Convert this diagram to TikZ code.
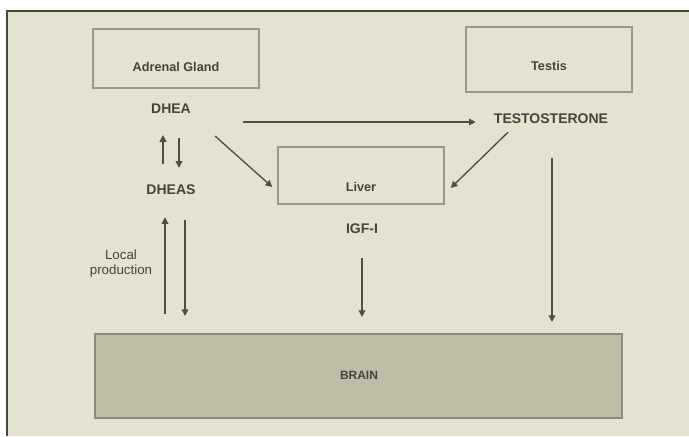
\documentclass[tikz,border=0pt]{standalone}
\usepackage{fontspec}
\setmainfont{Liberation Sans}
\usetikzlibrary{arrows.meta,positioning,calc}
\definecolor{paper}{HTML}{E5E3D0}
\definecolor{frame}{HTML}{4B473D}
\definecolor{boxline}{HTML}{9C9884}
\definecolor{brainfill}{HTML}{BEBBA6}
\definecolor{brainline}{HTML}{8F8B79}
\definecolor{ink}{HTML}{45433B}
\definecolor{arrowc}{HTML}{4F4D44}

\begin{document}
\begin{tikzpicture}[x=0.75pt,y=-0.75pt,
  box/.style={draw=boxline,line width=1.1pt,inner sep=0pt},
  organ/.style={font=\bfseries\fontsize{9.5}{11}\selectfont,text=ink,inner sep=0pt},
  hormone/.style={font=\bfseries\fontsize{10.5}{12}\selectfont,text=ink,inner sep=0pt},
  arr/.style={-{Triangle[length=5pt,width=5pt]},draw=arrowc,line width=1pt}]
  \useasboundingbox (0,0) rectangle (689,436);
  \fill[white] (0,0) rectangle (689,436);
  \fill[paper] (7,11) rectangle (689,436);
  \draw[frame,line width=0.9pt] (7,436) -- (7,11) -- (689,11);
  % organs
  \node[box,minimum width=124.5pt,minimum height=44.25pt] (adrenal) at (176,58.5) {};
  \node[organ] (adrenaltext) at ($(adrenal)+(0,8.5)$) {Adrenal Gland};
  \node[box,minimum width=124.5pt,minimum height=48.75pt] (testis) at (549,59.5) {};
  \node[organ] (testistext) at ($(testis)+(0,6.5)$) {Testis};
  \node[box,minimum width=124.5pt,minimum height=42.75pt] (liver) at (361,175.5) {};
  \node[organ] (livertext) at ($(liver)+(0,11.5)$) {Liver};
  \node[box,draw=brainline,fill=brainfill,line width=1.5pt,minimum width=395.25pt,minimum height=63pt] (brain) at (358.5,376) {};
  \node[organ,font=\bfseries\fontsize{9}{11}\selectfont] (braintext) at (359,375) {BRAIN};
  % hormones
  \node[hormone] (dhea) at (171,109) {DHEA};
  \node[hormone] (dheas) at (171,190) {DHEAS};
  \node[hormone] (testo) at (551,119) {TESTOSTERONE};
  \node[hormone] (igf) at (362,229) {IGF-I};
  \node[font=\fontsize{10}{11.25}\selectfont,text=ink,align=center,inner sep=0pt] (local) at (121,264) {Local\\production};
  % arrows
  \draw[arr] ($(dhea.east)+(52,13)$) -- ($(testo.west)+(-18,3)$);
  \draw[arr] ($(dheas.north)+(-8,-21)$) -- ($(dhea.south)+(-8,21)$);
  \draw[arr] ($(dhea.south)+(8,24)$) -- ($(dheas.north)+(8,-17)$);
  \draw[arr] ($(dhea.south east)+(24,22)$) -- ($(liver.west)+(-5,11.5)$);
  \draw[arr] ($(testo.south)+(-43,8)$) -- ($(liver.east)+(6,12.5)$);
  \draw[arr] ($(dheas.south |- brain.north)+(-6,-19)$) -- ($(dheas.south)+(-6,22)$);
  \draw[arr] ($(dheas.south)+(14,25)$) -- ($(dheas.south |- brain.north)+(14,-17)$);
  \draw[arr] ($(igf.south)+(0,24)$) -- ($(igf.south |- brain.north)+(0,-16)$);
  \draw[arr] ($(testo.south)+(1,34)$) -- ($(testo.south |- brain.north)+(1,-11)$);
\end{tikzpicture}
\end{document}
